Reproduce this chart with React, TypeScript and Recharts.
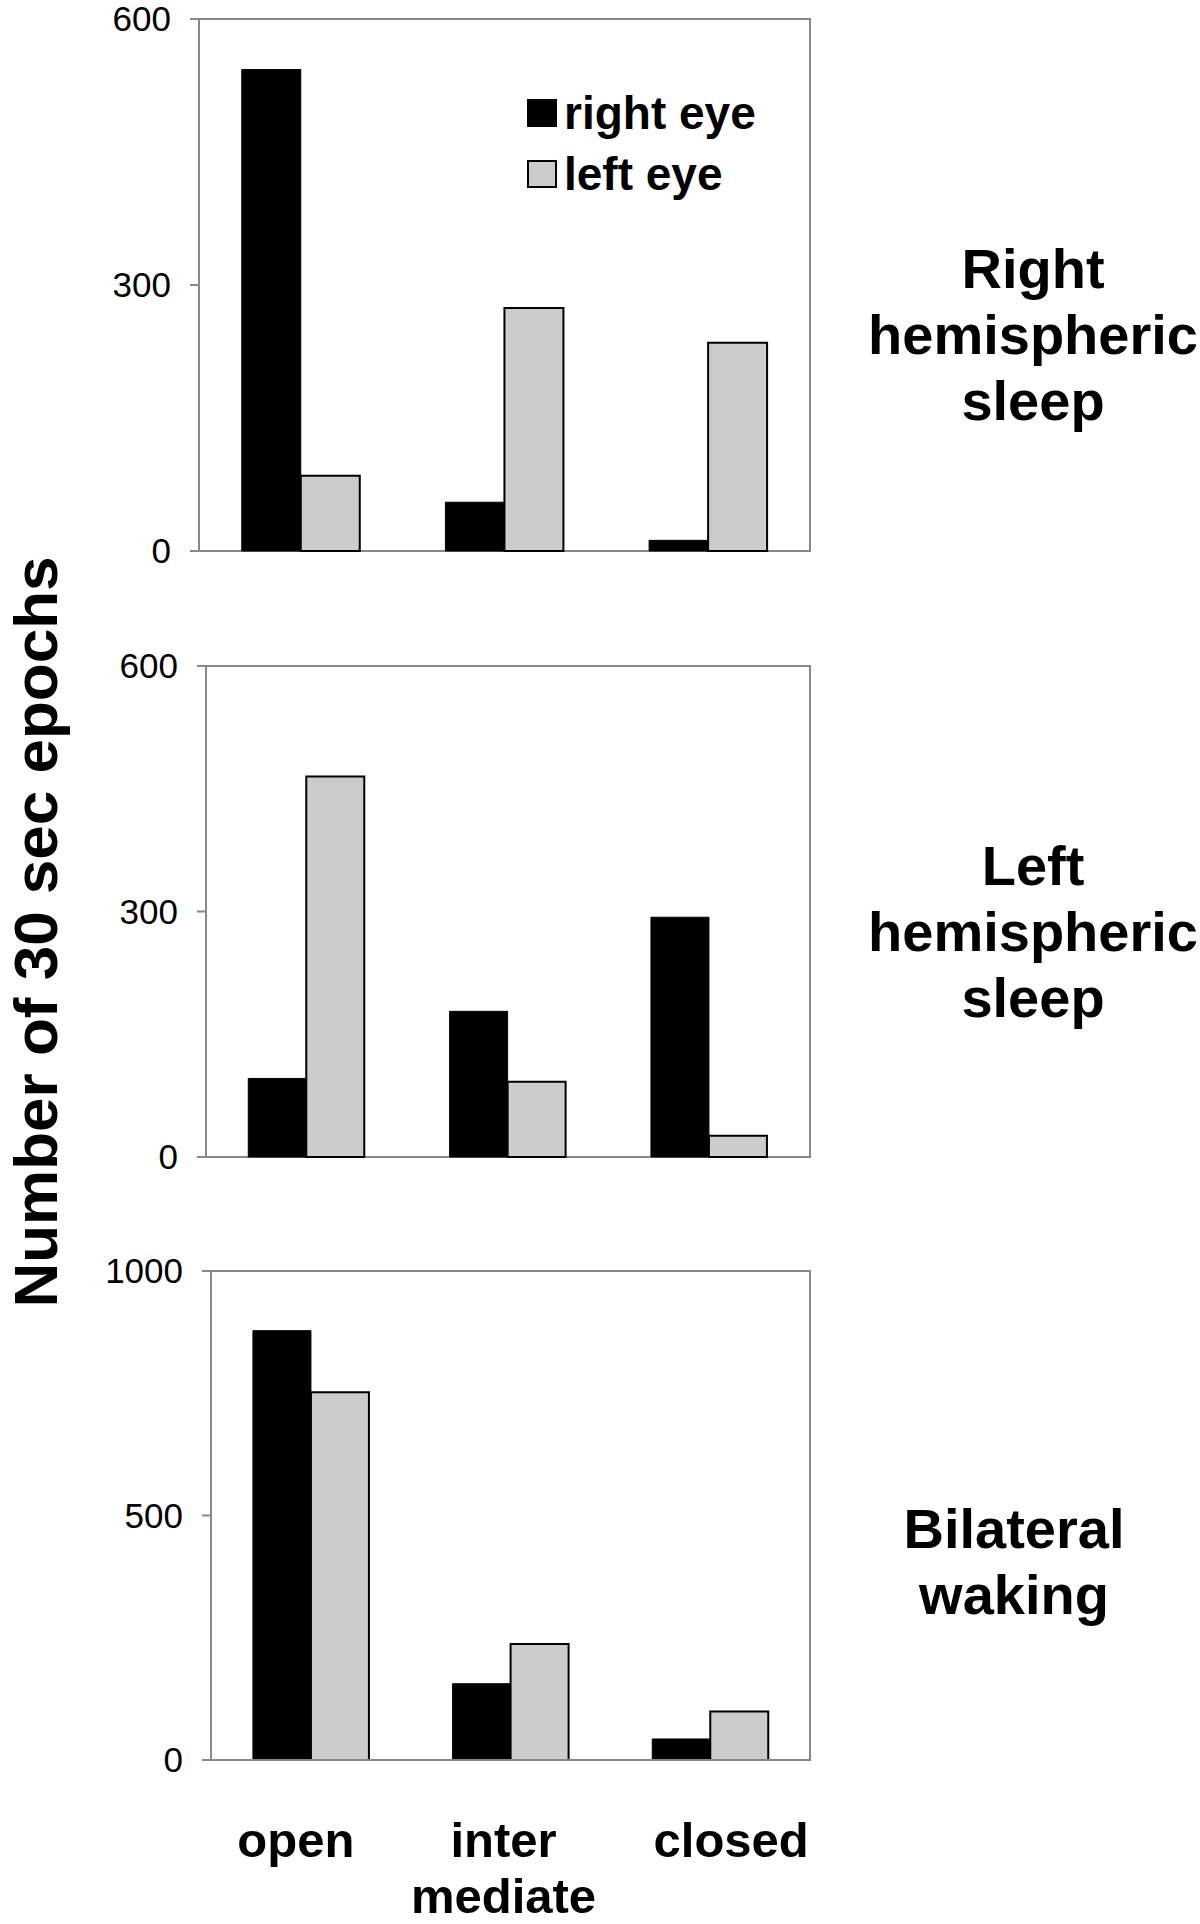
import React from 'react';
import { BarChart, Bar, XAxis, YAxis, Legend, ReferenceArea } from 'recharts';

// eye state categories
const categories = ['open', 'intermediate', 'closed'];
const categoryLines = [['open'], ['inter', 'mediate'], ['closed']];
const categoryNudge = [-15, -7, 21];

// epoch counts per panel
const rightSleepRightEye = [543, 55, 12];
const rightSleepLeftEye = [85, 274, 235];
const leftSleepRightEye = [96, 178, 293];
const leftSleepLeftEye = [465, 92, 26];
const wakingRightEye = [878, 156, 43];
const wakingLeftEye = [752, 237, 99];

const sleepTicks = [0, 300, 600];
const wakingTicks = [0, 500, 1000];

const legendOrder = ['right eye', 'left eye'];

const panelTitles = [
  ['Right', 'hemispheric', 'sleep'],
  ['Left', 'hemispheric', 'sleep'],
  ['Bilateral', 'waking'],
];

const FONT = '"Liberation Sans", Arial, Helvetica, sans-serif';
const FRAME = '#888888';
const GREY = '#cccccc';

const makeRows = (right: number[], left: number[]) =>
  categories.map((cat, i) => ({ cat, right: right[i], left: left[i] }));

const CategoryTick = ({ x, y, payload }: any) => {
  const idx = categories.indexOf(payload.value);
  const lines = categoryLines[idx] || [payload.value];
  const cx = x + (categoryNudge[idx] || 0);
  return (
    <text x={cx} y={y} textAnchor="middle" fontSize={49} fontWeight="bold" fontFamily={FONT} fill="#000">
      {lines.map((line, i) => (
        <tspan key={line} x={cx} dy={i === 0 ? 97 : 56}>
          {line}
        </tspan>
      ))}
    </text>
  );
};

const EyeLegend = ({ payload }: any) => {
  const items = [...(payload || [])].sort(
    (a: any, b: any) => legendOrder.indexOf(a.value) - legendOrder.indexOf(b.value),
  );
  return (
    <div style={{ fontFamily: FONT }}>
      {items.map((entry: any) => (
        <div key={entry.value} style={{ display: 'flex', alignItems: 'center', height: 61 }}>
          <span
            style={{
              display: 'inline-block',
              width: 30,
              height: 28,
              boxSizing: 'border-box',
              background: entry.color,
              border: '2px solid #000',
              marginRight: 7,
            }}
          />
          <span style={{ fontSize: 46, fontWeight: 'bold', lineHeight: 1, color: '#000' }}>{entry.value}</span>
        </div>
      ))}
    </div>
  );
};

interface PanelProps {
  top: number;
  height: number;
  plotTop: number;
  plotBottom: number;
  plotLeft: number;
  rows: { cat: string; right: number; left: number }[];
  ticks: number[];
  showCategories?: boolean;
  showLegend?: boolean;
}

function Panel({ top, height, plotTop, plotBottom, plotLeft, rows, ticks, showCategories, showLegend }: PanelProps) {
  const xHeight = showCategories ? 150 : 0;
  const max = ticks[ticks.length - 1];
  return (
    <div style={{ position: 'absolute', left: 0, top }}>
      <BarChart
        width={1200}
        height={height}
        data={rows}
        barCategoryGap="21%"
        barGap={0}
        margin={{ top: plotTop, right: 390, left: plotLeft - 80, bottom: height - plotBottom - xHeight }}
      >
        <XAxis
          dataKey="cat"
          height={xHeight}
          axisLine={{ stroke: FRAME, strokeWidth: 2 }}
          tickLine={false}
          tickSize={0}
          tickMargin={0}
          interval={0}
          tick={showCategories ? <CategoryTick /> : false}
        />
        <YAxis
          width={80}
          domain={[0, max]}
          ticks={ticks}
          interval={0}
          tickSize={9}
          tickMargin={19}
          tickLine={{ stroke: FRAME, strokeWidth: 2 }}
          axisLine={{ stroke: FRAME, strokeWidth: 2 }}
          tick={{ fontSize: 35, fill: '#000', fontFamily: FONT }}
        />
        <ReferenceArea y1={0} y2={max} fill="none" fillOpacity={0} stroke={FRAME} strokeWidth={2} ifOverflow="visible" />
        {showLegend && (
          <Legend
            layout="vertical"
            align="center"
            verticalAlign="middle"
            content={<EyeLegend />}
            wrapperStyle={{ left: 527, top: 82, width: 300 }}
          />
        )}
        <Bar dataKey="right" name="right eye" fill="#000" stroke="#000" strokeWidth={1} isAnimationActive={false} />
        <Bar dataKey="left" name="left eye" fill={GREY} stroke="#000" strokeWidth={2} isAnimationActive={false} />
      </BarChart>
    </div>
  );
}

export default function App() {
  return (
    <div
      style={{
        position: 'absolute',
        left: 0,
        top: 0,
        width: 1200,
        height: 1924,
        background: '#fff',
        overflow: 'hidden',
        fontFamily: FONT,
      }}
    >
      <Panel
        top={0}
        height={600}
        plotTop={19}
        plotBottom={551}
        plotLeft={199}
        rows={makeRows(rightSleepRightEye, rightSleepLeftEye)}
        ticks={sleepTicks}
        showLegend
      />
      <Panel
        top={620}
        height={590}
        plotTop={46}
        plotBottom={537}
        plotLeft={206}
        rows={makeRows(leftSleepRightEye, leftSleepLeftEye)}
        ticks={sleepTicks}
      />
      <Panel
        top={1225}
        height={699}
        plotTop={46}
        plotBottom={535}
        plotLeft={211}
        rows={makeRows(wakingRightEye, wakingLeftEye)}
        ticks={wakingTicks}
        showCategories
      />
      <svg
        width={1200}
        height={1924}
        style={{ position: 'absolute', left: 0, top: 0, pointerEvents: 'none' }}
        fontFamily={FONT}
        fontWeight="bold"
        fill="#000"
      >
        <text transform="translate(57, 932) rotate(-90)" textAnchor="middle" fontSize={62}>
          Number of 30 sec epochs
        </text>
        {panelTitles.map((lines, p) => {
          const cx = p === 2 ? 1014 : 1033;
          const base = [288, 885, 1548][p];
          return (
            <text key={p} x={cx} y={base} textAnchor="middle" fontSize={56}>
              {lines.map((line, i) => (
                <tspan key={line} x={cx} dy={i === 0 ? 0 : 66}>
                  {line}
                </tspan>
              ))}
            </text>
          );
        })}
      </svg>
    </div>
  );
}
